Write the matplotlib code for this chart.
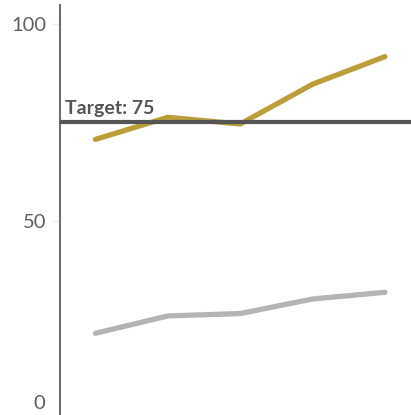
import matplotlib.pyplot as plt
import numpy as np
from matplotlib.transforms import offset_copy

plt.rcParams['font.family'] = ['Lato', 'DejaVu Sans']

# ----------------------------- data ----------------------------- #
periods = [0, 1, 2, 3, 4]
gold_vals = [70.7, 76.3, 74.6, 84.7, 91.7]
gray_vals = [21.5, 25.9, 26.5, 30.2, 31.9]
target = 75
yticks = [50, 100]

GOLD = '#b8992e'
GRAY = '#b4b4b4'
DARK = '#555555'

fig = plt.figure(figsize=(4.11, 4.15), dpi=100)
# axes runs a bit past the bottom edge so 0 sits just below the figure
ax = fig.add_axes([60/411, -3/415, 1 - 60/411, 413/415])

ax.plot(periods, gray_vals, color=GRAY, lw=3.8, solid_capstyle='round', zorder=2)
ax.plot(periods, gold_vals, color=GOLD, lw=3.8, solid_capstyle='round', alpha=0.95, zorder=3)
ax.axhline(target, color=DARK, lw=3, zorder=4)

t = offset_copy(ax.get_yaxis_transform(), fig=fig, x=3.5, y=4, units='points')
ax.text(0, target, f'Target: {target}', transform=t, ha='left', va='bottom',
        fontsize=14, fontweight='bold', color=DARK)

ax.set_xlim(-0.49, 4.36)
ax.set_ylim(0, 104.8)

ax.set_yticks(yticks)
ax.set_yticklabels([str(v) for v in yticks])
ax.tick_params(axis='y', length=6, color='#eeeeee', pad=4, labelsize=14.5, labelcolor='#5f5f5f')
ax.set_xticks([])

# "0" label pushed up inside the visible area
t0 = offset_copy(ax.get_yaxis_transform(), fig=fig, x=-11, y=4, units='points')
ax.text(0, 0, '0', transform=t0, ha='right', va='bottom', fontsize=14.5, color='#5f5f5f')

for s in ['top', 'right', 'bottom']:
    ax.spines[s].set_visible(False)
ax.spines['left'].set_color('#6e6e6e')
ax.spines['left'].set_linewidth(1.5)

fig.savefig('out.png', dpi=100)
